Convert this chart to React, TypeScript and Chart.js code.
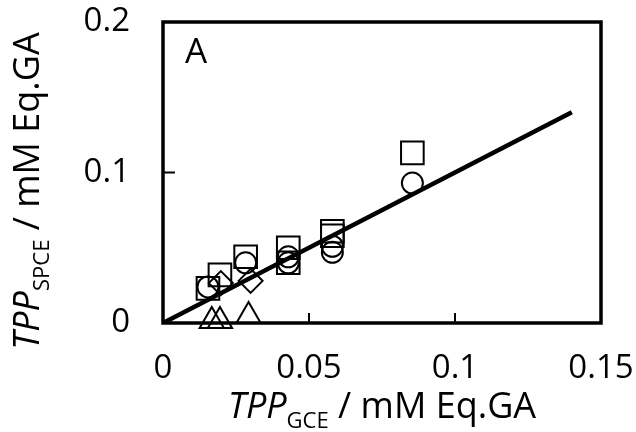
import React, { useEffect, useRef } from "react";
import { Chart, registerables } from "chart.js";

Chart.register(...registerables);

const FONT = "'Open Sans', 'DejaVu Sans', sans-serif";

// Squares
const squareX = [0.0154, 0.0195, 0.0283, 0.0429, 0.0429, 0.058, 0.058, 0.0854];
const squareY = [0.023, 0.032, 0.044, 0.05, 0.04, 0.061, 0.058, 0.113];
// Circles
const circleX = [0.0154, 0.0283, 0.0429, 0.0429, 0.058, 0.058, 0.0854];
const circleY = [0.024, 0.04, 0.04, 0.044, 0.047, 0.051, 0.093];
// Diamonds
const diamondX = [0.0198, 0.03];
const diamondY = [0.0265, 0.028];
// Triangles
const triangleX = [0.0167, 0.0195, 0.0293];
const triangleY = [0.0013, 0.0013, 0.0046];
// Fit line
const fitX = [0, 0.14];
const fitY = [0, 0.14];

const xTicks = [0, 0.05, 0.1, 0.15];
const yTicks = [0, 0.1, 0.2];

const toPts = (xs: number[], ys: number[]) => xs.map((x, i) => ({ x, y: ys[i] }));

function drawMixed(
  ctx: CanvasRenderingContext2D,
  parts: { text: string; italic?: boolean; sub?: boolean }[],
  size: number,
  subSize: number,
  subOffset: number
) {
  const fontFor = (p: { italic?: boolean; sub?: boolean }) =>
    `${p.italic ? "italic " : ""}${p.sub ? subSize : size}px ${FONT}`;
  let total = 0;
  parts.forEach((p) => {
    ctx.font = fontFor(p);
    total += ctx.measureText(p.text).width;
  });
  let x = -total / 2;
  parts.forEach((p) => {
    ctx.font = fontFor(p);
    ctx.fillText(p.text, x, p.sub ? subOffset : 0);
    x += ctx.measureText(p.text).width;
  });
}

const framePlugin = {
  id: "frame",
  beforeDatasetsDraw(chart: any) {
    const { ctx, chartArea, scales } = chart;
    const { left, right, top, bottom } = chartArea;
    ctx.save();
    ctx.strokeStyle = "#000";
    ctx.lineWidth = 2;
    scales.x.ticks.forEach((t: any) => {
      const px = scales.x.getPixelForValue(t.value);
      ctx.beginPath();
      ctx.moveTo(px, bottom);
      ctx.lineTo(px, bottom - 10);
      ctx.stroke();
    });
    scales.y.ticks.forEach((t: any) => {
      const py = scales.y.getPixelForValue(t.value);
      ctx.beginPath();
      ctx.moveTo(left, py);
      ctx.lineTo(left + 12, py);
      ctx.stroke();
    });
    ctx.lineWidth = 3.5;
    ctx.strokeRect(left, top, right - left, bottom - top);
    ctx.restore();
  },
  afterDraw(chart: any) {
    const { ctx, chartArea } = chart;
    const { left, right, top } = chartArea;
    ctx.save();
    ctx.fillStyle = "#000";
    ctx.textBaseline = "alphabetic";
    ctx.textAlign = "left";
    ctx.font = `35px ${FONT}`;
    ctx.fillText("A", left + 22, top + 41);

    // X title
    ctx.save();
    ctx.translate((left + right) / 2, 418);
    drawMixed(
      ctx,
      [
        { text: "TPP", italic: true },
        { text: "GCE", sub: true },
        { text: " / mM Eq.GA" },
      ],
      36,
      22,
      10
    );
    ctx.restore();

    // Y title
    ctx.save();
    ctx.translate(39, 191);
    ctx.rotate(-Math.PI / 2);
    drawMixed(
      ctx,
      [
        { text: "TPP", italic: true },
        { text: "SPCE", sub: true },
        { text: " / mM Eq.GA" },
      ],
      36,
      22,
      10
    );
    ctx.restore();
    ctx.restore();
  },
};

const fmt = (v: any) => String(Math.round(Number(v) * 1000) / 1000);

export default function App() {
  const ref = useRef<HTMLCanvasElement | null>(null);
  useEffect(() => {
    if (!ref.current) return;
    const marker = {
      borderColor: "#000",
      backgroundColor: "rgba(0,0,0,0)",
      borderWidth: 2,
      clip: false as any,
    };
    const chart = new Chart(ref.current, {
      type: "scatter",
      data: {
        datasets: [
          {
            type: "line",
            data: toPts(fitX, fitY),
            borderColor: "#000",
            borderWidth: 4.5,
            pointRadius: 0,
            fill: false,
          } as any,
          { ...marker, data: toPts(squareX, squareY), pointStyle: "rect", pointRadius: 16 },
          { ...marker, data: toPts(circleX, circleY), pointStyle: "circle", pointRadius: 10.5 },
          { ...marker, data: toPts(diamondX, diamondY), pointStyle: "rectRot", pointRadius: 12 },
          { ...marker, data: toPts(triangleX, triangleY), pointStyle: "triangle", pointRadius: 14 },
        ],
      },
      options: {
        animation: false,
        responsive: false,
        events: [],
        layout: { padding: { top: 22, right: 35, left: 0, bottom: 0 } },
        plugins: { legend: { display: false }, tooltip: { enabled: false } },
        scales: {
          x: {
            type: "linear",
            min: 0,
            max: 0.15,
            afterBuildTicks: (s: any) => {
              s.ticks = xTicks.map((v) => ({ value: v }));
            },
            ticks: { font: { family: FONT, size: 33 }, color: "#000", padding: 26, maxRotation: 0, callback: fmt },
            grid: { display: false, drawTicks: false },
            border: { display: false },
            afterFit: (s: any) => {
              s.height = 109;
              s.paddingLeft = 0;
              s.paddingRight = 0;
            },
          },
          y: {
            type: "linear",
            min: 0,
            max: 0.2,
            afterBuildTicks: (s: any) => {
              s.ticks = yTicks.map((v) => ({ value: v }));
            },
            ticks: { font: { family: FONT, size: 33 }, color: "#000", padding: 33, callback: fmt },
            grid: { display: false, drawTicks: false },
            border: { display: false },
            afterFit: (s: any) => {
              s.width = 163;
              s.paddingTop = 0;
              s.paddingBottom = 0;
            },
          },
        },
      },
      plugins: [framePlugin],
    });
    return () => chart.destroy();
  }, []);
  return (
    <div style={{ position: "absolute", left: 0, top: 0, width: 636, height: 432, background: "#fff" }}>
      <canvas ref={ref} width={636} height={432} style={{ width: 636, height: 432 }} />
    </div>
  );
}
